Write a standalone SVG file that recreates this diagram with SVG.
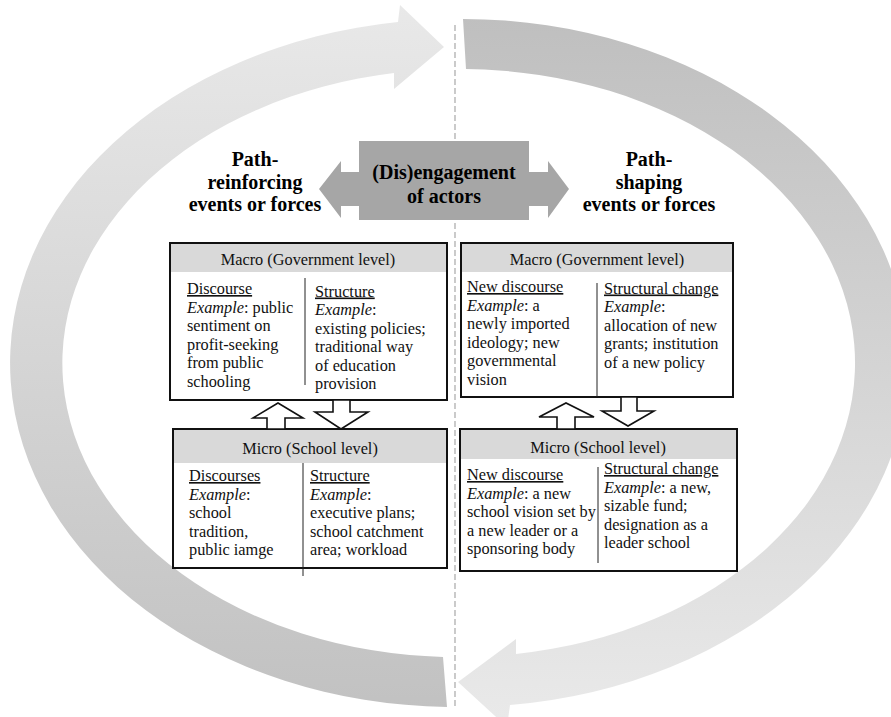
<svg xmlns="http://www.w3.org/2000/svg" width="891" height="717" viewBox="0 0 891 717">
<style>
.t{font-family:"Liberation Serif","Times New Roman",serif;font-size:16.3px;fill:#111}
.h{text-anchor:middle}
.b{font-family:"Liberation Serif","Times New Roman",serif;font-size:20px;font-weight:bold;fill:#000;text-anchor:middle}
.box{fill:#fff;stroke:#111;stroke-width:2}
.hdr{fill:#d9d9d9}
.div{stroke:#222;stroke-width:1}
.hol{fill:#fff;stroke:#111;stroke-width:1.6;stroke-linejoin:miter}
.u{text-decoration:underline}
.i{font-style:italic}
</style>
<defs>
<linearGradient id="gL" gradientUnits="userSpaceOnUse" x1="0" y1="0" x2="0" y2="717">
<stop offset="0" stop-color="#e9e9e9"/><stop offset="1" stop-color="#c1c1c1"/>
</linearGradient>
<linearGradient id="gR" gradientUnits="userSpaceOnUse" x1="0" y1="0" x2="0" y2="717">
<stop offset="0" stop-color="#bebebe"/><stop offset="1" stop-color="#e9e9e9"/>
</linearGradient>
</defs>

<g id="connectors">
<path id="cycle-left" fill="url(#gL)" d="M447 707 A446 344 0 0 1 398 22 L400 5 L444 47 L394 89 L394 73 A395 294 0 0 0 443 657 Z"/>
<path id="cycle-right" fill="url(#gR)" d="M463 19 A446 344 0 0 1 510 705 L507 727 L458 682 L516 639 L516 654 A395 294 0 0 0 466 69 Z"/>
<line id="divider" x1="455" y1="25" x2="455" y2="708" stroke="#a8a8a8" stroke-width="1.2" stroke-dasharray="6 3"/>
<polygon id="double-arrow" fill="#a6a6a6" points="319,189 341,161 341,172 548,172 548,161 569,189 548,218 548,206 341,206 341,218"/>
</g>

<g id="engagement">
<rect x="359" y="141" width="170" height="79" fill="#a6a6a6"/>
<text class="b" x="444" y="179">(Dis)engagement</text>
<text class="b" x="444" y="203">of actors</text>
</g>

<g id="label-left">
<text class="b" x="255" y="166">Path-</text>
<text class="b" x="255" y="189">reinforcing</text>
<text class="b" x="255" y="211">events or forces</text>
</g>

<g id="label-right">
<text class="b" x="649" y="166">Path-</text>
<text class="b" x="649" y="189">shaping</text>
<text class="b" x="649" y="211">events or forces</text>
</g>

<g id="macro-left">
<rect class="box" x="170" y="243" width="277" height="157"/>
<rect class="hdr" x="171" y="244" width="275" height="28"/>
<text class="t h" x="308" y="265">Macro (Government level)</text>
<line class="div" x1="305" y1="278" x2="305" y2="385"/>
<text class="t" x="187" y="294"><tspan class="u">Discourse</tspan></text>
<text class="t" x="187" y="312.5"><tspan class="i">Example</tspan>: public</text>
<text class="t" x="187" y="331">sentiment on</text>
<text class="t" x="187" y="349.5">profit-seeking</text>
<text class="t" x="187" y="368">from public</text>
<text class="t" x="187" y="386.5">schooling</text>
<text class="t" x="315" y="296.5"><tspan class="u">Structure</tspan></text>
<text class="t" x="315" y="315"><tspan class="i">Example</tspan>:</text>
<text class="t" x="315" y="333.5">existing policies;</text>
<text class="t" x="315" y="352">traditional way</text>
<text class="t" x="315" y="370.5">of education</text>
<text class="t" x="315" y="389">provision</text>
</g>

<g id="micro-left">
<rect class="box" x="173" y="429" width="274" height="139"/>
<rect class="hdr" x="174" y="430" width="272" height="33"/>
<text class="t h" x="310" y="454">Micro (School level)</text>
<line class="div" x1="303" y1="463" x2="303" y2="576"/>
<text class="t" x="189" y="481"><tspan class="u">Discourses</tspan></text>
<text class="t" x="189" y="499.5"><tspan class="i">Example</tspan>:</text>
<text class="t" x="189" y="518">school</text>
<text class="t" x="189" y="536.5">tradition,</text>
<text class="t" x="189" y="555">public iamge</text>
<text class="t" x="310" y="481"><tspan class="u">Structure</tspan></text>
<text class="t" x="310" y="499.5"><tspan class="i">Example</tspan>:</text>
<text class="t" x="310" y="518">executive plans;</text>
<text class="t" x="310" y="536.5">school catchment</text>
<text class="t" x="310" y="555">area; workload</text>
</g>

<g id="macro-right">
<rect class="box" x="461" y="243" width="272" height="154"/>
<rect class="hdr" x="462" y="244" width="270" height="28"/>
<text class="t h" x="597" y="265">Macro (Government level)</text>
<line class="div" x1="597" y1="283" x2="597" y2="397"/>
<text class="t" x="467" y="292"><tspan class="u">New discourse</tspan></text>
<text class="t" x="467" y="310.5"><tspan class="i">Example</tspan>: a</text>
<text class="t" x="467" y="329">newly imported</text>
<text class="t" x="467" y="347.5">ideology; new</text>
<text class="t" x="467" y="366">governmental</text>
<text class="t" x="467" y="384.5">vision</text>
<text class="t" x="604" y="293.5"><tspan class="u">Structural change</tspan></text>
<text class="t" x="604" y="312"><tspan class="i">Example</tspan>:</text>
<text class="t" x="604" y="330.5">allocation of new</text>
<text class="t" x="604" y="349">grants; institution</text>
<text class="t" x="604" y="367.5">of a new policy</text>
</g>

<g id="micro-right">
<rect class="box" x="460" y="429" width="277" height="142"/>
<rect class="hdr" x="461" y="430" width="275" height="29"/>
<text class="t h" x="598" y="453">Micro (School level)</text>
<line class="div" x1="598" y1="467" x2="598" y2="563"/>
<text class="t" x="467" y="480"><tspan class="u">New discourse</tspan></text>
<text class="t" x="467" y="498.5"><tspan class="i">Example</tspan>: a new</text>
<text class="t" x="467" y="517">school vision set by</text>
<text class="t" x="467" y="535.5">a new leader or a</text>
<text class="t" x="467" y="554">sponsoring body</text>
<text class="t" x="604" y="474"><tspan class="u">Structural change</tspan></text>
<text class="t" x="604" y="492.5"><tspan class="i">Example</tspan>: a new,</text>
<text class="t" x="604" y="511">sizable fund;</text>
<text class="t" x="604" y="529.5">designation as a</text>
<text class="t" x="604" y="548">leader school</text>
</g>

<g id="level-arrows">
<polygon class="hol" points="267,429 267,418 253,418 278,403 303,418 285,418 285,429"/>
<polygon class="hol" points="333,400 333,412 315,412 341,429 368,412 350,412 350,400"/>
<polygon class="hol" points="557,429 557,417 539,417 566,403 594,417 575,417 575,429"/>
<polygon class="hol" points="621,397 621,411 602,411 628,426 654,411 637,411 637,397"/>
</g>
</svg>
